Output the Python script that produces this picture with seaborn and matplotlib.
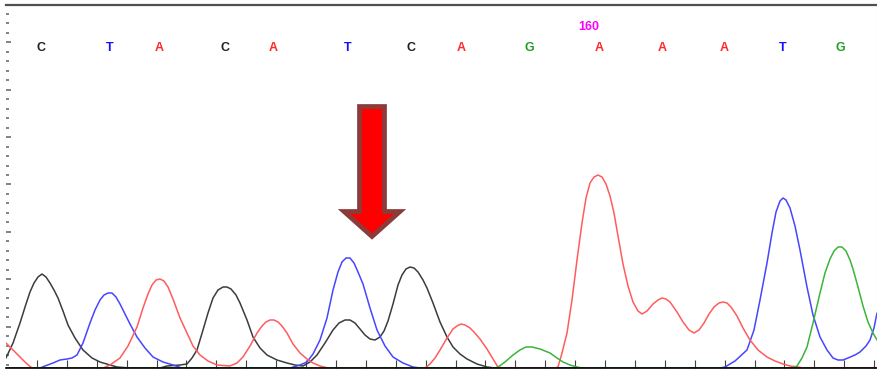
import matplotlib
matplotlib.use("Agg")
import matplotlib.pyplot as plt
import seaborn as sns
import numpy as np
import pandas as pd

# base calls along the top
bases = ["C", "T", "A", "C", "A", "T", "C", "A", "G", "A", "A", "A", "T", "G"]
base_scan = [41.5, 110, 159.5, 225, 273, 348, 411, 461, 529.5, 599, 662, 724, 783, 840]
base_number = "160"
base_number_scan = 589

# trace readings (scan position, signal) per dye channel
c_scan = [6, 13, 20, 26, 30, 34, 38, 42, 46, 50, 54, 58, 63, 68, 75, 83, 92, 100, 110, 117, 130,
          160, 167, 180, 187, 192, 197, 203, 208, 213, 218, 223, 227, 231, 236, 240, 247, 253, 260,
          267, 277, 287, 295, 303, 310, 317, 325, 333, 339, 345, 350, 355, 360, 365, 370, 375, 380,
          384, 388, 393, 398, 402, 406, 410, 414, 418, 423, 427, 433, 440, 447, 453, 460, 467, 477,
          487, 495, 877]
c_signal = [10, 25, 45, 64, 76, 85, 91, 94, 91, 85, 78, 70, 57, 43, 30, 18, 10, 6, 3, 1, 0,
            0, 2, 3, 4, 10, 18, 38, 55, 70, 78, 81, 81, 79, 73, 65, 48, 31, 20,
            13, 8, 5, 3, 2, 6, 13, 25, 38, 45, 48, 48, 45, 39, 33, 29, 28, 31,
            37, 47, 64, 83, 93, 99, 101, 100, 96, 88, 80, 65, 46, 31, 21, 14, 9, 4,
            1, 0, 0]

t_scan = [6, 40, 45, 53, 60, 67, 72, 77, 83, 90, 95, 100, 104, 108, 112, 116, 120, 125, 130, 137,
          145, 153, 163, 173, 182, 290, 300, 307, 313, 320, 327, 333, 338, 342, 346, 350, 354, 358,
          363, 370, 377, 385, 393, 403, 413, 420, 720, 725, 735, 747, 754, 760, 767, 772, 776, 780,
          783, 786, 790, 795, 800, 807, 813, 820, 827, 833, 838, 843, 848, 855, 860, 866, 870, 874,
          877]
t_signal = [0, 0, 2, 5, 8, 9, 10, 13, 25, 45, 58, 68, 73, 75, 75, 71, 64, 54, 44, 31,
            20, 11, 6, 3, 0, 0, 3, 6, 14, 28, 50, 78, 96, 106, 110, 110, 105, 96,
            84, 60, 38, 22, 11, 5, 1, 0, 0, 1, 7, 18, 38, 68, 105, 135, 156, 167,
            170, 168, 160, 142, 118, 81, 53, 31, 18, 10, 8, 8, 10, 13, 16, 22, 28, 40,
            55]

a_scan = [6, 13, 20, 26, 32, 103, 110, 120, 128, 137, 143, 148, 152, 156, 160, 164, 168, 173, 180,
          187, 193, 200, 208, 217, 230, 237, 243, 250, 257, 262, 266, 270, 274, 278, 282, 287, 293,
          300, 307, 313, 320, 328, 425, 430, 435, 440, 447, 453, 457, 461, 465, 470, 474, 480, 487,
          493, 498, 503, 555, 558, 562, 567, 572, 577, 582, 586, 590, 594, 598, 602, 606, 610, 614,
          618, 623, 628, 633, 638, 642, 647, 653, 658, 662, 666, 670, 677, 683, 689, 694, 699, 704,
          709, 714, 719, 723, 727, 731, 737, 743, 750, 758, 767, 775, 783, 790, 798, 803, 877]
a_signal = [25, 18, 11, 5, 0, 0, 3, 10, 22, 41, 60, 74, 83, 88, 89, 87, 81, 69, 50,
            35, 22, 13, 7, 3, 2, 5, 11, 22, 35, 42, 46, 48, 48, 46, 42, 35, 24,
            15, 9, 5, 2, 0, 0, 4, 10, 18, 30, 39, 42, 44, 43, 40, 36, 29, 19,
            9, 1, 0, 0, 1, 15, 35, 68, 108, 145, 170, 185, 191, 193, 191, 184, 172, 155,
            132, 104, 82, 66, 57, 54, 57, 64, 68, 70, 69, 66, 56, 46, 38, 35, 38, 45,
            54, 61, 65, 66, 65, 61, 52, 40, 28, 18, 11, 7, 4, 2, 1, 0, 0]

g_scan = [6, 495, 498, 505, 513, 520, 526, 532, 540, 550, 557, 563, 570, 577, 582, 793, 797, 802,
          807, 813, 820, 825, 830, 834, 838, 842, 846, 850, 853, 858, 863, 868, 873, 877]
g_signal = [0, 0, 1, 6, 13, 18, 21, 21, 19, 15, 10, 6, 3, 1, 0, 0, 2, 10,
            21, 45, 75, 95, 109, 117, 121, 121, 117, 108, 99, 81, 62, 46, 35, 28]

dye_colors = {"C": "#3c3c3c", "T": "#4646ff", "A": "#ff5c5c", "G": "#3cb43c"}
letter_colors = {"C": "#202020", "T": "#1010ff", "A": "#ff2a2a", "G": "#20a020"}

traces = pd.concat([
    pd.DataFrame({"scan": c_scan, "signal": c_signal, "dye": "C"}),
    pd.DataFrame({"scan": t_scan, "signal": t_signal, "dye": "T"}),
    pd.DataFrame({"scan": a_scan, "signal": a_signal, "dye": "A"}),
    pd.DataFrame({"scan": g_scan, "signal": g_signal, "dye": "G"}),
])

sns.set_style("white")
plt.rcParams["font.family"] = ["Liberation Sans", "DejaVu Sans"]

fig = plt.figure(figsize=(8.78, 3.70), dpi=100)
ax = fig.add_axes([6 / 878, 2 / 370, 871 / 878, 363 / 370])

sns.lineplot(data=traces, x="scan", y="signal", hue="dye", palette=dye_colors,
             units="dye", estimator=None, sort=False, linewidth=1.1,
             legend=False, ax=ax)

for base, pos in zip(bases, base_scan):
    ax.text(pos, 319.7, base, color=letter_colors[base], fontsize=9,
            fontweight="bold", ha="center", va="center")
ax.text(base_number_scan, 341.3, base_number, color="#ff00ff", fontsize=9,
        fontweight="bold", ha="center", va="center")

# marker arrow over the mixed peak
ax.arrow(372, 261.5, 0, -130, width=25, head_width=56, head_length=25,
         length_includes_head=True, fc="#ff0000", ec="#8c3b3b", lw=3.4,
         joinstyle="miter", zorder=5)

ax.set_xlim(6, 877)
ax.set_ylim(0, 363)
ax.set_xlabel("")
ax.set_ylabel("")

left_ticks = 3.4 + 9.48 * np.arange(38)
ax.set_yticks(left_ticks[4::5])
ax.set_yticks(left_ticks, minor=True)
ax.set_xticks(37 + 29.9 * np.arange(29))
ax.set_xticklabels([])
ax.set_yticklabels([])
ax.tick_params(axis="y", which="major", direction="in", length=3.3, width=1.1,
               color="#606060", left=True)
ax.tick_params(axis="y", which="minor", direction="in", length=2.2, width=1.1,
               color="#606060", left=True)
ax.tick_params(axis="x", which="major", direction="in", length=5.8, width=0.8,
               color="#404040", bottom=True)

ax.spines["left"].set_visible(False)
ax.spines["top"].set_color("#505050")
ax.spines["top"].set_linewidth(1.6)
ax.spines["right"].set_color("#cccccc")
ax.spines["right"].set_linewidth(0.8)
ax.spines["bottom"].set_color("#000000")
ax.spines["bottom"].set_linewidth(1.2)

fig.savefig("out.png", dpi=100, facecolor="white")
